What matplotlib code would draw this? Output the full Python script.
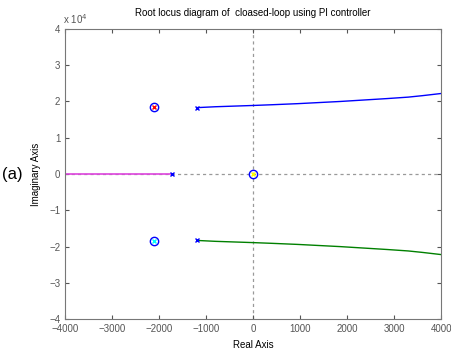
import numpy as np
import matplotlib
matplotlib.use("Agg")
import matplotlib.pyplot as plt

# root locus branches (real part, imaginary part in units of 1e4)
upper_re = [-1200, -800, 0, 400, 950, 1400, 1850, 2350, 2850, 3300, 3600, 4000]
upper_im = [1.83, 1.855, 1.89, 1.91, 1.94, 1.97, 2.00, 2.04, 2.08, 2.12, 2.16, 2.22]
lower_re = [-1200, -800, 0, 400, 950, 1400, 1850, 2350, 2850, 3300, 3600, 4000]
lower_im = [-1.83, -1.855, -1.89, -1.91, -1.94, -1.97, -2.00, -2.04, -2.08, -2.12, -2.16, -2.22]
real_re = [-1720, -4000]
real_im = [0, 0]

# open-loop poles and zeros
pole_re = [-1200, -1200, -1720]
pole_im = [1.83, -1.83, 0]
zero_re = [-2100, -2100, 0]
zero_im = [1.85, -1.85, 0]
zero_inner = ["red", "cyan", "yellow"]

plt.rcParams['font.family'] = ['Liberation Sans', 'DejaVu Sans']

fig = plt.figure(figsize=(4.52, 3.57), dpi=100)
ax = fig.add_axes([0.144, 0.106, 0.832, 0.813])

ax.axhline(0, color="#999999", ls=(0, (2.5, 2.5)), lw=0.9, zorder=1)
ax.axvline(0, color="#999999", ls=(0, (2.5, 2.5)), lw=0.9, zorder=1)

ax.plot(upper_re, upper_im, color="blue", lw=1.0)
ax.plot(lower_re, lower_im, color="green", lw=1.0)
ax.plot(real_re, real_im, color="#dd44dd", lw=1.2)

ax.plot(pole_re, pole_im, "x", color="blue", ms=3.5, mew=1.0, zorder=5)
for zr, zi, c in zip(zero_re, zero_im, zero_inner):
    ax.plot(zr, zi, "x", color=c, ms=2.5, mew=1.0, zorder=5)
ax.plot(zero_re, zero_im, "o", mfc="none", mec="blue", ms=6, mew=1.0, zorder=6)

ax.set_xlim(-4000, 4000)
ax.set_ylim(-4, 4)
ax.set_xticks(np.arange(-4000, 4001, 1000))
ax.set_yticks(np.arange(-4, 5, 1))
ax.tick_params(direction="in", length=3, labelsize=7, colors="#555555", top=True, right=True, labeltop=False, labelright=False)
for s in ax.spines.values():
    s.set_color("#777777")

ax.set_xlabel("Real Axis", fontsize=7, labelpad=4)
ax.set_ylabel("Imaginary Axis", fontsize=7, labelpad=6)
ax.set_title("Root locus diagram of  cloased-loop using PI controller", fontsize=7, pad=9)
ax.text(-0.005, 1.01, "x 10$^4$", transform=ax.transAxes, fontsize=7, color="#555555", ha="left", va="bottom")
fig.text(0.005, 0.51, "(a)", fontsize=12, ha="left", va="center")

fig.savefig("out.png", dpi=100)
